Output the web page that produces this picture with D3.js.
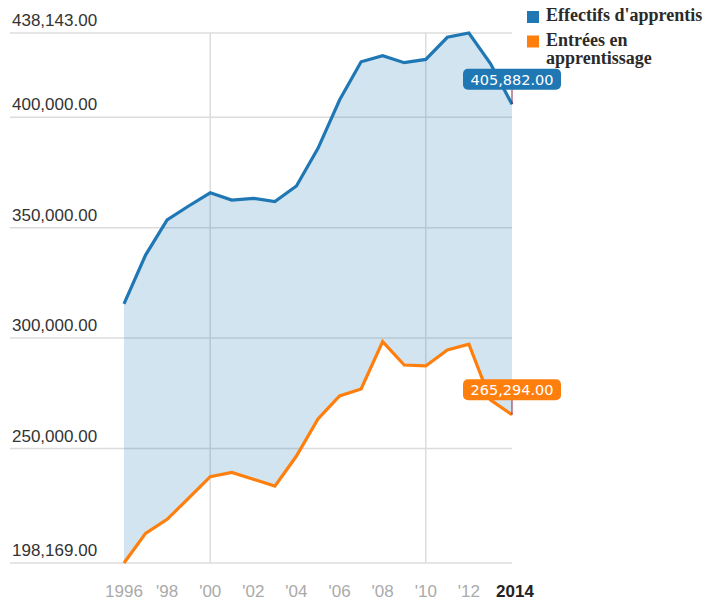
<!DOCTYPE html>
<html>
<head>
<meta charset="utf-8">
<script src="https://cdn.jsdelivr.net/npm/d3@7"></script>
<style>
  html, body { margin: 0; padding: 0; background: #fff; }
  svg { display: block; }
</style>
</head>
<body>
<div id="chart"></div>
<script>
const years = [1996,1997,1998,1999,2000,2001,2002,2003,2004,2005,2006,2007,2008,2009,2010,2011,2012,2013,2014];
const effectifs = [315500,337600,353500,359800,365800,362500,363300,361800,368900,385900,407800,425100,427900,424700,426200,436200,438143,424300,405882];
const entrees = [198169,211600,217950,227500,237250,239200,236100,233000,246600,263400,273800,277000,298400,287800,287400,294600,297200,272000,265294];
const seriesNames = ["Effectifs d'apprentis", "Entrées en apprentissage"];
const legendLines = [["Effectifs d'apprentis"], ["Entrées en", "apprentissage"]];
const seriesColors = ["#1f77b4", "#ff7f0e"];
const yTicks = [198169, 250000, 300000, 350000, 400000, 438143];
const xTicks = [1996,1998,2000,2002,2004,2006,2008,2010,2012,2014];
const xTickLabels = ["1996","'98","'00","'02","'04","'06","'08","'10","'12","2014"];
const xGridYears = [2000, 2010];

const W = 723, H = 600;
const svg = d3.select("#chart").append("svg").attr("width", W).attr("height", H);

const x = d3.scaleLinear().domain([1996, 2014]).range([124, 512]);
const y = d3.scaleLinear().domain([198169, 438143]).range([563, 33]);
const gridLeft = 10, gridRight = 512;

// grid
const g = svg.append("g");
g.selectAll("line.h").data(yTicks).enter().append("line")
  .attr("x1", gridLeft).attr("x2", gridRight)
  .attr("y1", d => y(d)).attr("y2", d => y(d))
  .attr("stroke", "#dcdcdc").attr("stroke-width", 1.5);
g.selectAll("line.v").data(xGridYears).enter().append("line")
  .attr("x1", d => x(d)).attr("x2", d => x(d))
  .attr("y1", y(438143)).attr("y2", y(198169))
  .attr("stroke", "#dcdcdc").attr("stroke-width", 1.5);

// y labels
const fmt = d3.format(",.2f");
g.selectAll("text.yl").data(yTicks).enter().append("text")
  .attr("x", 12).attr("y", d => y(d) - 7)
  .attr("font-family", "'Liberation Sans', Arial, sans-serif")
  .attr("font-size", 17).attr("fill", "#333")
  .text(d => fmt(d));

// x labels
svg.selectAll("text.xl").data(xTicks).enter().append("text")
  .attr("x", (d, i) => x(d) + (i === xTicks.length - 1 ? 3 : 0)).attr("y", 597)
  .attr("text-anchor", "middle")
  .attr("font-family", "'Liberation Sans', Arial, sans-serif")
  .attr("font-size", 17)
  .attr("font-weight", (d, i) => i === xTicks.length - 1 ? "bold" : "normal")
  .attr("fill", (d, i) => i === xTicks.length - 1 ? "#222" : "#aaa")
  .text((d, i) => xTickLabels[i]);

// area between
const data = years.map((yr, i) => ({yr, a: effectifs[i], b: entrees[i]}));
const area = d3.area().x(d => x(d.yr)).y0(d => y(d.b)).y1(d => y(d.a));
svg.append("path").datum(data).attr("d", area)
  .attr("fill", seriesColors[0]).attr("fill-opacity", 0.2);

// lines
const lineA = d3.line().x(d => x(d.yr)).y(d => y(d.a));
const lineB = d3.line().x(d => x(d.yr)).y(d => y(d.b));
svg.append("path").datum(data).attr("d", lineA)
  .attr("fill", "none").attr("stroke", seriesColors[0]).attr("stroke-width", 3.2);
svg.append("path").datum(data).attr("d", lineB)
  .attr("fill", "none").attr("stroke", seriesColors[1]).attr("stroke-width", 3.2);

// end badges
const last = data[data.length - 1];
[[last.a, seriesColors[0]], [last.b, seriesColors[1]]].forEach(([v, c]) => {
  const px = x(last.yr), py = y(v);
  const cy = py - 25;
  svg.append("line").attr("x1", px).attr("x2", px).attr("y1", cy + 10).attr("y2", py)
    .attr("stroke", "#8a2342").attr("stroke-width", 1);
  svg.append("rect").attr("x", px - 49).attr("y", cy - 10.5).attr("width", 98).attr("height", 21)
    .attr("rx", 5).attr("ry", 5).attr("fill", c);
  svg.append("text").attr("x", px).attr("y", cy + 5.5).attr("text-anchor", "middle")
    .attr("font-family", "'DejaVu Sans', sans-serif").attr("font-size", 14.5)
    .attr("fill", "#fff").text(fmt(v));
});

// legend
const leg = svg.append("g");
const legFont = "'Liberation Serif', 'DejaVu Serif', serif";
const legY = [21, 45.5];
legendLines.forEach((lines, i) => {
  leg.append("rect").attr("x", 527).attr("y", legY[i] - 10).attr("width", 12).attr("height", 12)
    .attr("fill", seriesColors[i]);
  lines.forEach((ln, j) => {
    leg.append("text").attr("x", 546).attr("y", legY[i] + j * 18.5)
      .attr("font-family", legFont).attr("font-weight", "bold")
      .attr("font-size", 18).attr("fill", "#2a2a2a").text(ln);
  });
});
</script>
</body>
</html>
